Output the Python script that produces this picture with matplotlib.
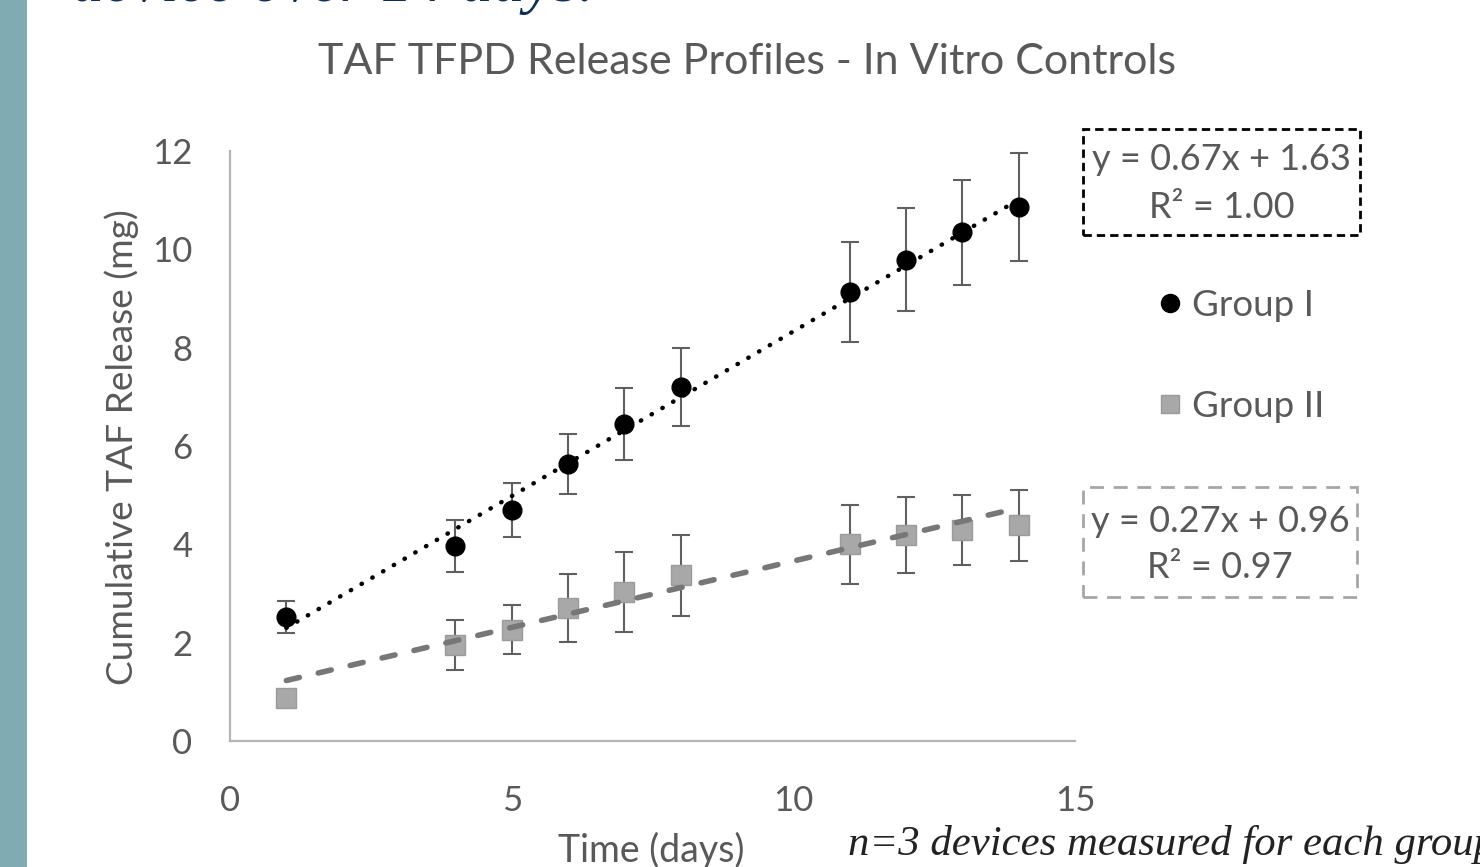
import matplotlib
matplotlib.use("Agg")
import matplotlib.pyplot as plt
from matplotlib.lines import Line2D
from matplotlib.patches import Rectangle

# Sampling days and measured cumulative release (mean and SD, n=3)
days = [1, 4, 5, 6, 7, 8, 11, 12, 13, 14]
group1_mean = [2.52, 3.96, 4.70, 5.63, 6.44, 7.20, 9.13, 9.79, 10.35, 10.86]
group1_sd = [0.33, 0.53, 0.55, 0.61, 0.73, 0.80, 1.02, 1.05, 1.07, 1.09]
group2_mean = [0.87, 1.95, 2.26, 2.70, 3.03, 3.37, 4.00, 4.19, 4.29, 4.39]
group2_sd = [0.10, 0.51, 0.50, 0.69, 0.82, 0.83, 0.80, 0.77, 0.72, 0.72]

# Linear fits (slope, intercept, R^2)
fit1 = (0.67, 1.63, 1.00)
fit2 = (0.27, 0.96, 0.97)

x_ticks = [0, 5, 10, 15]
y_ticks = [0, 2, 4, 6, 8, 10, 12]

title = "TAF TFPD Release Profiles - In Vitro Controls"
x_label = "Time (days)"
y_label = "Cumulative TAF Release (mg)"
series_names = ["Group I", "Group II"]
heading = "device over 14 days."
footnote = "n=3 devices measured for each group"

SANS = "Lato"
GREY_TXT = "#595959"

W, H = 1480, 867
fig = plt.figure(figsize=(W / 100, H / 100), dpi=100)
fig.patch.set_facecolor("white")

# slide accent bar on the left
fig.add_artist(Rectangle((0, 0), 27 / W, 1, transform=fig.transFigure,
                         facecolor="#80abb2", edgecolor="none"))

ax = fig.add_axes([230 / W, (H - 741) / H, 845 / W, 590 / H])
ax.set_xlim(0, 15)
ax.set_ylim(0, 12)
ax.set_xticks(x_ticks)
ax.set_yticks(y_ticks)
ax.tick_params(length=0, labelsize=25, labelcolor=GREY_TXT)
ax.tick_params(axis="y", pad=27)
ax.tick_params(axis="x", pad=32)
for lab in ax.get_xticklabels() + ax.get_yticklabels():
    lab.set_fontfamily(SANS)
for side in ["top", "right"]:
    ax.spines[side].set_visible(False)
for side in ["left", "bottom"]:
    ax.spines[side].set_color("#b5b5b5")
    ax.spines[side].set_linewidth(1.6)

# error bars (caps ~18 px wide)
ax.errorbar(days, group1_mean, yerr=group1_sd, fmt="none", ecolor="#606060",
            elinewidth=1.5, capsize=6.5, capthick=1.5, zorder=2)
ax.errorbar(days, group2_mean, yerr=group2_sd, fmt="none", ecolor="#606060",
            elinewidth=1.5, capsize=6.5, capthick=1.5, zorder=2)

# markers
ax.plot(days, group1_mean, linestyle="none", marker="o", markersize=13.5,
        markerfacecolor="black", markeredgecolor="black", zorder=3)
ax.plot(days, group2_mean, linestyle="none", marker="s", markersize=14,
        markerfacecolor="#a8a8a8", markeredgecolor="#9a9a9a",
        markeredgewidth=1, zorder=3)

# trend lines from the fitted coefficients
x0, x1 = days[0], days[-1]
ax.plot([x0, x1], [fit1[0] * x0 + fit1[1], fit1[0] * x1 + fit1[1]],
        color="black", linewidth=3.2, linestyle=(0, (0.1, 2.7)),
        dash_capstyle="round", zorder=4)
ax.plot([x0, x1], [fit2[0] * x0 + fit2[1], fit2[0] * x1 + fit2[1]],
        color="#777777", linewidth=4.0, linestyle=(0, (2.4, 3.5)),
        dash_capstyle="round", zorder=4)

# title and axis labels
fig.text(747 / W, 1 - 62 / H, title, family=SANS, fontsize=31, color=GREY_TXT,
         ha="center", va="center")
fig.text(651 / W, 1 - 850 / H, x_label, family=SANS, fontsize=27,
         color=GREY_TXT, ha="center", va="center")
fig.text(122 / W, 1 - 447 / H, y_label, family=SANS, fontsize=26.7,
         color=GREY_TXT, ha="center", va="center", rotation=90)

# legend
handles = [
    Line2D([], [], linestyle="none", marker="o", markersize=13,
           markerfacecolor="black", markeredgecolor="black"),
    Line2D([], [], linestyle="none", marker="s", markersize=13,
           markerfacecolor="#a8a8a8", markeredgecolor="#9a9a9a"),
]
leg = fig.legend(handles, series_names, loc="center left",
                 bbox_to_anchor=(1133 / W, 1 - 356 / H), frameon=False,
                 prop={"family": SANS, "size": 26.5}, labelspacing=1.85,
                 handlelength=1.0, handletextpad=0.1, borderpad=0)
for t in leg.get_texts():
    t.set_color(GREY_TXT)


def fit_box(fit, left, top, right, bottom, edge, dashes, line1_y, line2_y):
    fig.add_artist(Rectangle((left / W, 1 - bottom / H),
                             (right - left) / W, (bottom - top) / H,
                             transform=fig.transFigure, facecolor="white",
                             edgecolor=edge, linewidth=2.0,
                             linestyle=(0, dashes)))
    cx = (left + right) / 2 / W
    fig.text(cx, 1 - line1_y / H, f"y = {fit[0]:.2f}x + {fit[1]:.2f}",
             family=SANS, fontsize=26, color=GREY_TXT, ha="center",
             va="center")
    fig.text(cx, 1 - line2_y / H, f"R² = {fit[2]:.2f}",
             family=SANS, fontsize=26, color=GREY_TXT, ha="center",
             va="center")


fit_box(fit1, 1083, 129, 1360, 235, "black", (3.0, 1.8), 160, 207)
fit_box(fit2, 1083, 487, 1357, 597, "#a6a6a6", (5, 3.5), 522, 567)

# slide text around the chart
fig.text(72 / W, 1 - 1 / H, heading, family="Liberation Serif", style="italic",
         fontsize=46, color="#0e2e5c", ha="left", va="baseline")
fig.text(848 / W, 1 - 855 / H, footnote, family="Liberation Serif",
         style="italic", fontsize=30.8, color="#222222", ha="left",
         va="baseline")

fig.savefig("out.png", dpi=100)
